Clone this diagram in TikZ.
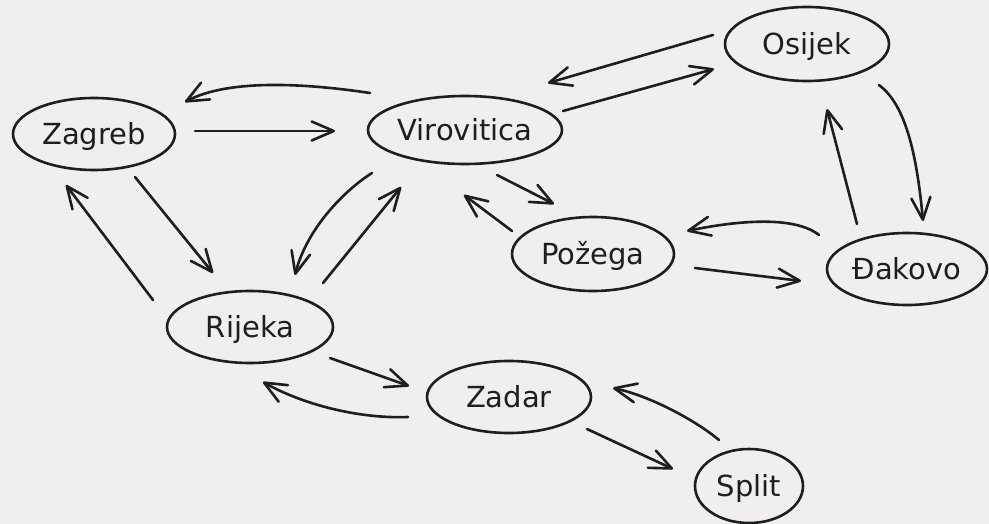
\documentclass[tikz,border=0pt]{standalone}
\usepackage{fontspec}
\setmainfont{DejaVu Sans}
\usetikzlibrary{arrows.meta,shapes.geometric}
\definecolor{bgc}{RGB}{241,239,237}
\definecolor{ink}{RGB}{30,30,30}
\begin{document}
\begin{tikzpicture}[x=1pt,y=-1pt,
  city/.style={ellipse, draw=ink, line width=2.6pt, inner sep=0pt, text=ink,
    font=\fontsize{29}{34}\selectfont, text height=21pt, text depth=0pt},
  arr/.style={draw=ink, line width=2.6pt, line cap=round, line join=round,
    -{Straight Barb[length=22pt,width=19pt,line cap=round,line join=round]}}]
\fill[bgc] (0,0) rectangle (989,524);
\useasboundingbox (0,0) rectangle (989,524);

\node[city, minimum width=162, minimum height=72] (Zg) at (94,134) {Zagreb};
\node[city, minimum width=194, minimum height=68] (Vi) at (465,130) {Virovitica};
\node[city, minimum width=164, minimum height=74] (Os) at (807,44) {Osijek};
\node[city, minimum width=162, minimum height=74] (Po) at (593,254) {Požega};
\node[city, minimum width=160, minimum height=72] (Dj) at (907,269) {Đakovo};
\node[city, minimum width=166, minimum height=72] (Rj) at (250,327) {Rijeka};
\node[city, minimum width=164, minimum height=72] (Zd) at (509,397) {Zadar};
\node[city, minimum width=108, minimum height=74] (Sp) at (749,486) {Split};

% Zagreb <-> Virovitica
\draw[arr] ([shift={(-95,-37)}]Vi.center) .. controls (310,84) and (230,78) .. ([shift={(91,-32)}]Zg.center);
\draw[arr] ([shift={(101,-3)}]Zg.center) -- ([shift={(-130,1)}]Vi.center);
% Zagreb <-> Rijeka
\draw[arr] ([shift={(41,43)}]Zg.center) -- ([shift={(-37,-54)}]Rj.center);
\draw[arr] ([shift={(-97,-27)}]Rj.center) -- ([shift={(-28,51)}]Zg.center);
% Virovitica <-> Rijeka
\draw[arr] ([shift={(-93,43)}]Vi.center) .. controls (345,190) and (307,228) .. ([shift={(45,-52)}]Rj.center);
\draw[arr] ([shift={(73,-44)}]Rj.center) -- ([shift={(-64,57)}]Vi.center);
% Virovitica <-> Osijek
\draw[arr] ([shift={(98,-19)}]Vi.center) -- ([shift={(-93,25)}]Os.center);
\draw[arr] ([shift={(-94,-9)}]Os.center) -- ([shift={(83,-47)}]Vi.center);
% Virovitica <-> Pozega
\draw[arr] ([shift={(32,45)}]Vi.center) -- ([shift={(-39,-50)}]Po.center);
\draw[arr] ([shift={(-81,-23)}]Po.center) -- ([shift={(-1,65)}]Vi.center);
% Osijek <-> Dakovo
\draw[arr] ([shift={(72,41)}]Os.center) .. controls (903,103) and (916,145) .. ([shift={(16,-48)}]Dj.center);
\draw[arr] ([shift={(-50,-45)}]Dj.center) -- ([shift={(20,65)}]Os.center);
% Dakovo <-> Pozega
\draw[arr] ([shift={(-88,-34)}]Dj.center) .. controls (795,216) and (740,220) .. ([shift={(94,-23)}]Po.center);
\draw[arr] ([shift={(102,14)}]Po.center) -- ([shift={(-106,12)}]Dj.center);
% Rijeka <-> Zadar
\draw[arr] ([shift={(80,31)}]Rj.center) -- ([shift={(-100,-11)}]Zd.center);
\draw[arr] ([shift={(-101,20)}]Zd.center) .. controls (358,419) and (302,404) .. ([shift={(13,55)}]Rj.center);
% Zadar <-> Split
\draw[arr] ([shift={(78,32)}]Zd.center) -- ([shift={(-76,-17)}]Sp.center);
\draw[arr] ([shift={(-30,-46)}]Sp.center) .. controls (695,420) and (650,396) .. ([shift={(104,-9)}]Zd.center);
\end{tikzpicture}
\end{document}
